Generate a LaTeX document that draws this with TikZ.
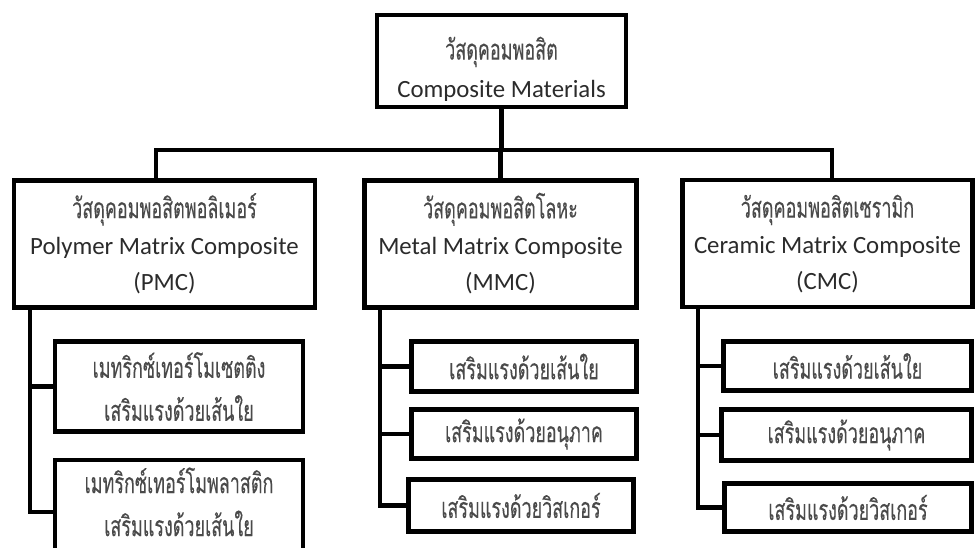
\documentclass[tikz,border=0pt]{standalone}
\usepackage{fontspec}
\setmainfont{Carlito}
\newfontfamily\thaifont[Script=Thai,FakeStretch=0.63,FakeBold=0.2]{Loma}
\usetikzlibrary{calc}
\definecolor{txt}{HTML}{2B2B2B}
\definecolor{thtxt}{HTML}{4A4A4A}
\newcommand{\thtext}[1]{{\thaifont\fontsize{28.5}{28.5}\selectfont\color{thtxt}#1}}
\newcommand{\shiftdown}[2]{\raisebox{-#1}[\height][\depth]{\begin{tabular}{@{}c@{}}#2\end{tabular}}}
\begin{document}
\begin{tikzpicture}[x=1pt,y=-1pt,
  box/.style={draw=black, line width=4.5pt, fill=white, inner sep=0pt, align=center, text=txt,
    font=\fontsize{24.8}{36}\selectfont},
  topbox/.style={box, font=\fontsize{24.8}{38}\selectfont},
  subbox/.style={box, font=\fontsize{24.8}{43}\selectfont},
  conn/.style={draw=black, line width=4.5pt}]
\useasboundingbox (0,0) rectangle (976,547);
\clip (0,0) rectangle (976,547);
% main boxes
\node[topbox, minimum width=249pt, minimum height=92pt] (top) at (501.5,61) {\shiftdown{10pt}{\thtext{วัสดุคอมพอสิต}\\Composite Materials}};
\node[box, minimum width=301pt, minimum height=127pt] (pmc) at (164.5,244) {\shiftdown{3pt}{\thtext{วัสดุคอมพอสิตพอลิเมอร์}\\Polymer Matrix Composite\\(PMC)}};
\node[box, minimum width=272pt, minimum height=127pt] (mmc) at (500.5,244) {\shiftdown{3pt}{\thtext{วัสดุคอมพอสิตโลหะ}\\Metal Matrix Composite\\(MMC)}};
\node[box, minimum width=290pt, minimum height=127pt] (cmc) at (827.5,243.5) {\shiftdown{3pt}{\thtext{วัสดุคอมพอสิตเซรามิก}\\Ceramic Matrix Composite\\(CMC)}};
% PMC sub boxes
\node[subbox, minimum width=248pt, minimum height=90pt] (p1) at (179,386.5) {\thtext{เมทริกซ์เทอร์โมเซตติง}\\\thtext{เสริมแรงด้วยเส้นใย}};
\node[subbox, minimum width=248pt, minimum height=104pt] (p2) at (179,512) {\shiftdown{-6pt}{\thtext{เมทริกซ์เทอร์โมพลาสติก}\\\thtext{เสริมแรงด้วยเส้นใย}}};
% MMC sub boxes
\node[subbox, minimum width=225pt, minimum height=50pt] (m1) at (524,366.5) {\thtext{เสริมแรงด้วยเส้นใย}};
\node[subbox, minimum width=225pt, minimum height=49pt] (m2) at (524,434) {\thtext{เสริมแรงด้วยอนุภาค}};
\node[subbox, minimum width=225pt, minimum height=52pt] (m3) at (521,505.5) {\thtext{เสริมแรงด้วยวิสเกอร์}};
% CMC sub boxes
\node[subbox, minimum width=248pt, minimum height=49pt] (c1) at (847.5,366) {\thtext{เสริมแรงด้วยเส้นใย}};
\node[subbox, minimum width=250pt, minimum height=51pt] (c2) at (846.5,435) {\thtext{เสริมแรงด้วยอนุภาค}};
\node[subbox, minimum width=247pt, minimum height=48pt] (c3) at (848,507.5) {\thtext{เสริมแรงด้วยวิสเกอร์}};
% bus
\coordinate (busL) at (156,150);
\coordinate (busR) at (832,150);
\draw[conn] (top.south) -- (top.south |- busL);
\draw[conn] (pmc.north -| busL) -- (busL) -- (busR) -- (cmc.north -| busR);
\draw[conn] (mmc.north) -- (mmc.north |- busL);
% trunks
\coordinate (pt) at (30,0);
\coordinate (mt) at (380,0);
\coordinate (ct) at (698,0);
\draw[conn] (pmc.south -| pt) |- (p2.west);
\draw[conn] (pt |- p1.west) -- (p1.west);
\draw[conn] (mmc.south -| mt) |- (m3.west);
\draw[conn] (mt |- m1.west) -- (m1.west);
\draw[conn] (mt |- m2.west) -- (m2.west);
\draw[conn] (cmc.south -| ct) |- (c3.west);
\draw[conn] (ct |- c1.west) -- (c1.west);
\draw[conn] (ct |- c2.west) -- (c2.west);
\end{tikzpicture}
\end{document}
